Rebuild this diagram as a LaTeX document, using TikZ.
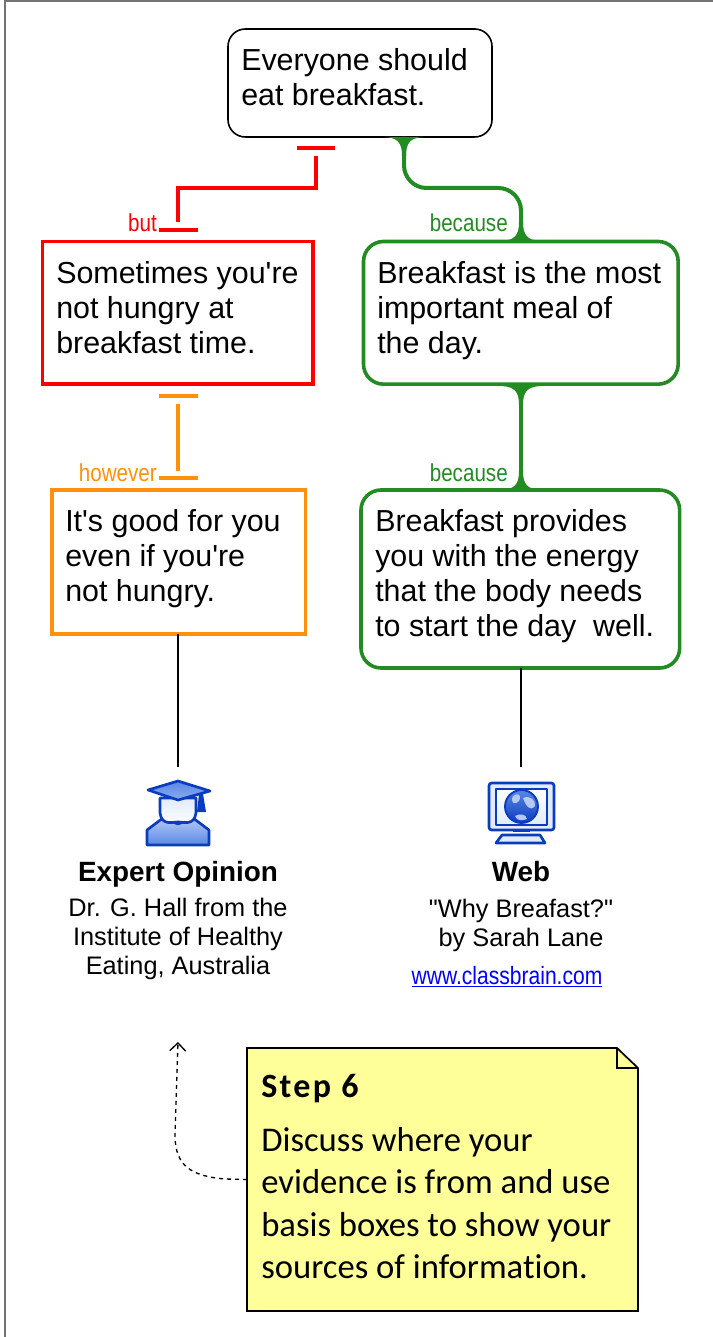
\documentclass[tikz,border=0pt]{standalone}
\usepackage{fontspec}
\newfontfamily\bodyfont{Liberation Sans}
\newfontfamily\narrowfont[FakeStretch=0.84]{Liberation Sans}
\newfontfamily\stepfont[Ligatures=NoCommon]{Carlito}
\newfontfamily\steptitlefont[LetterSpace=7]{Carlito}
\usetikzlibrary{positioning, arrows.meta}

\definecolor{argred}{RGB}{255,0,0}
\definecolor{argorange}{RGB}{255,145,10}
\definecolor{arggreen}{RGB}{34,139,34}
\definecolor{notefill}{RGB}{255,255,153}
\definecolor{iconblue}{RGB}{10,60,190}
\definecolor{iconmid}{RGB}{90,135,230}
\definecolor{iconpale}{RGB}{225,235,250}

\tikzset{
  box/.style={draw, line width=2.7pt, anchor=north west, inner sep=0pt, outer sep=0pt},
  claim/.style={box, draw=black, line width=1.2pt, rounded corners=13pt},
  reason/.style={box, draw=arggreen, rounded corners=15pt},
  objection/.style={box, draw=argred},
  rebuttal/.style={box, draw=argorange},
  boxtext/.style={anchor=north west, align=left, inner sep=0pt,
    font=\bodyfont\fontsize{22.8pt}{26.2pt}\selectfont},
  word/.style={font=\narrowfont\fontsize{18.4pt}{20pt}\selectfont, inner sep=0pt, anchor=base east},
  source/.style={align=center, inner sep=0pt, font=\bodyfont\fontsize{19pt}{21.8pt}\selectfont},
  sourcehead/.style={font=\bodyfont\bfseries\fontsize{20.9pt}{24pt}\selectfont, inner sep=0pt, anchor=base},
  linkline/.style={line width=3pt},
  barline/.style={line width=2.6pt},
  flaredown/.pic={\fill[arggreen] (-19,0) .. controls (-6,1) and (-2,6) .. (-2,19)
    -- (2,19) .. controls (2,6) and (6,1) .. (19,0) -- cycle;},
  flareup/.pic={\fill[arggreen] (-19,0) .. controls (-6,-1) and (-2,-6) .. (-2,-19)
    -- (2,-19) .. controls (2,-6) and (6,-1) .. (19,0) -- cycle;}
}

\begin{document}
\begin{tikzpicture}[x=0.75pt,y=-0.75pt]
  \useasboundingbox (0,0) rectangle (713,1337);
  % frame
  \draw[gray!90!black, line width=1.3pt] (5,1337) -- (5,1) -- (713,1);

  % boxes
  \node [claim, minimum width=198pt, minimum height=81pt] (top) at (228,29) {};
  \node [boxtext] (toptext) at (241,48) {Everyone should\\eat breakfast.};

  \node [objection, minimum width=203pt, minimum height=107pt] (obj) at (42.5,241.5) {};
  \node [boxtext] (objtext) at (56,261) {Sometimes you're\\not hungry at\\breakfast time.};

  \node [reason, minimum width=236pt, minimum height=107pt] (why) at (363.5,241.5) {};
  \node [boxtext] (whytext) at (377,261) {Breakfast is the most\\important meal of\\the day.};

  \node [rebuttal, minimum width=190pt, minimum height=108pt] (reply) at (52,490) {};
  \node [boxtext] (replytext) at (65,509) {It's good for you\\even if you're\\not hungry.};

  \node [reason, minimum width=239pt, minimum height=133.5pt] (energy) at (361,490) {};
  \node [boxtext] (energytext) at (375,509) {Breakfast provides\\you with the energy\\that the body needs\\to start the day\ \ well.};

  % objection links
  \coordinate (p1) at (316,156);
  \coordinate (p2) at (178,222);
  \coordinate (p3) at (178,404);
  \coordinate (p4) at (178,471);
  \draw[argred, barline] (297,148) -- (335,148);
  \draw[argred, linkline] (p1) -- (316,188) -- (178,188) -- (p2);
  \draw[argred, barline] (159,230) -- (198,230);
  \draw[argorange, barline] (159,396) -- (198,396);
  \draw[argorange, linkline] (p3) -- (p4);
  \draw[argorange, barline] (159,478) -- (198,478);

  % reason links
  \draw[arggreen, linkline, rounded corners=17pt] (404,137) -- (404,188) -- (521,188) -- (521,241);
  \draw[arggreen, linkline] (why.south -| 521,0) -- (energy.north -| 521,0);
  \pic at (404,137) {flaredown};
  \pic at (521,241) {flareup};
  \pic at (521,386) {flaredown};
  \pic at (521,490) {flareup};

  \node [word, text=argred] (but) at (157,232) {but};
  \node [word, text=arggreen] (bec1) at (508,232) {because};
  \node [word, text=argorange] (how) at (157,481) {however};
  \node [word, text=arggreen] (bec2) at (508,481) {because};

  % basis
  \coordinate (gradtop) at (178,767);
  \coordinate (webtop) at (521,767);
  \draw[line width=1pt] (reply.south -| gradtop) -- (gradtop);
  \draw[line width=1pt] (energy.south -| webtop) -- (webtop);

  % graduate
  \begin{scope}[line width=2pt, draw=iconblue, line join=round]
    \draw[top color=iconmid!45, bottom color=iconmid] (147,845) -- (147,830) -- (163,818) -- (178,824) -- (193,818) -- (209,830) -- (209,845) -- cycle;
    \draw[top color=iconpale, bottom color=white] (160,798) -- (160,813) .. controls (162,826) and (172,822) .. (178,822)
       .. controls (184,822) and (194,826) .. (196,813) -- (196,798) -- cycle;
    \draw[top color=iconmid, bottom color=iconmid!70] (148,790) -- (178,781) -- (210,791) -- (178,800) -- cycle;
    \fill[iconblue] (199,794) -- (203,794) -- (206,812) -- (197,812) -- cycle;
  \end{scope}

  % monitor
  \begin{scope}[line width=2pt, draw=iconblue, line join=round]
    \draw[fill=iconpale, rounded corners=2pt] (489,783) rectangle (554,830);
    \draw[top color=white, bottom color=iconpale, line width=1pt] (496,789) rectangle (547,825);
    \draw[top color=iconmid, bottom color=iconblue, line width=1.4pt] (521.5,806.5) circle (16.5);
    \fill[iconmid!45] (513,796) .. controls (518,792) and (522,795) .. (519,801) .. controls (514,806) and (510,802) .. (513,796) -- cycle;
    \fill[iconmid!45] (523,798) .. controls (530,795) and (536,800) .. (535,806) .. controls (530,812) and (526,806) .. (523,798) -- cycle;
    \fill[iconmid!45] (515,816) .. controls (520,813) and (526,814) .. (527,819) .. controls (522,821) and (517,821) .. (515,816) -- cycle;
    \draw[fill=iconpale] (502,835) -- (540,835) -- (545,843) -- (496,843) -- cycle;
    \draw[line width=0.8pt] (513,831.5) -- (530,831.5);
  \end{scope}

  \node [sourcehead] (experthead) at (178,881) {Expert Opinion};
  \node [source] (expert) at (178,939) {Dr. G. Hall from the\\Institute of Healthy\\Eating, Australia};
  \node [sourcehead] (webhead) at (521,881) {Web};
  \node [source] (web) at (521,925) {"Why Breafast?"\\by Sarah Lane};
  \node [font=\narrowfont\fontsize{18.8pt}{20pt}\selectfont, text=blue, inner sep=0pt, anchor=base] (site) at (507,984) {\underline{www.classbrain.com}};

  % note
  \draw[fill=notefill, line width=1.3pt] (247,1048) -- (617,1048) -- (638,1068) -- (638,1311) -- (247,1311) -- cycle;
  \draw[line width=1.3pt] (617,1048) -- (617,1068) -- (638,1068);
  \coordinate (notewest) at (247,1179.5);
  \coordinate (arrowend) at (178,1042);
  \draw[dashed, line width=1pt, -{Straight Barb[length=6pt,width=12pt]}] (notewest) -- (225,1179) .. controls (190,1176) and (175,1165) .. (175,1135) -- (arrowend);
  \node [anchor=north west, inner sep=0pt, font=\steptitlefont\bfseries\fontsize{25.5pt}{28pt}\selectfont] (steptitle) at (261,1074) {Step 6};
  \node [anchor=north west, inner sep=0pt, align=left, font=\stepfont\fontsize{26pt}{31.8pt}\selectfont] (steptext) at (261,1127) {Discuss where your\\evidence is from and use\\basis boxes to show your\\sources of information.};
\end{tikzpicture}
\end{document}
